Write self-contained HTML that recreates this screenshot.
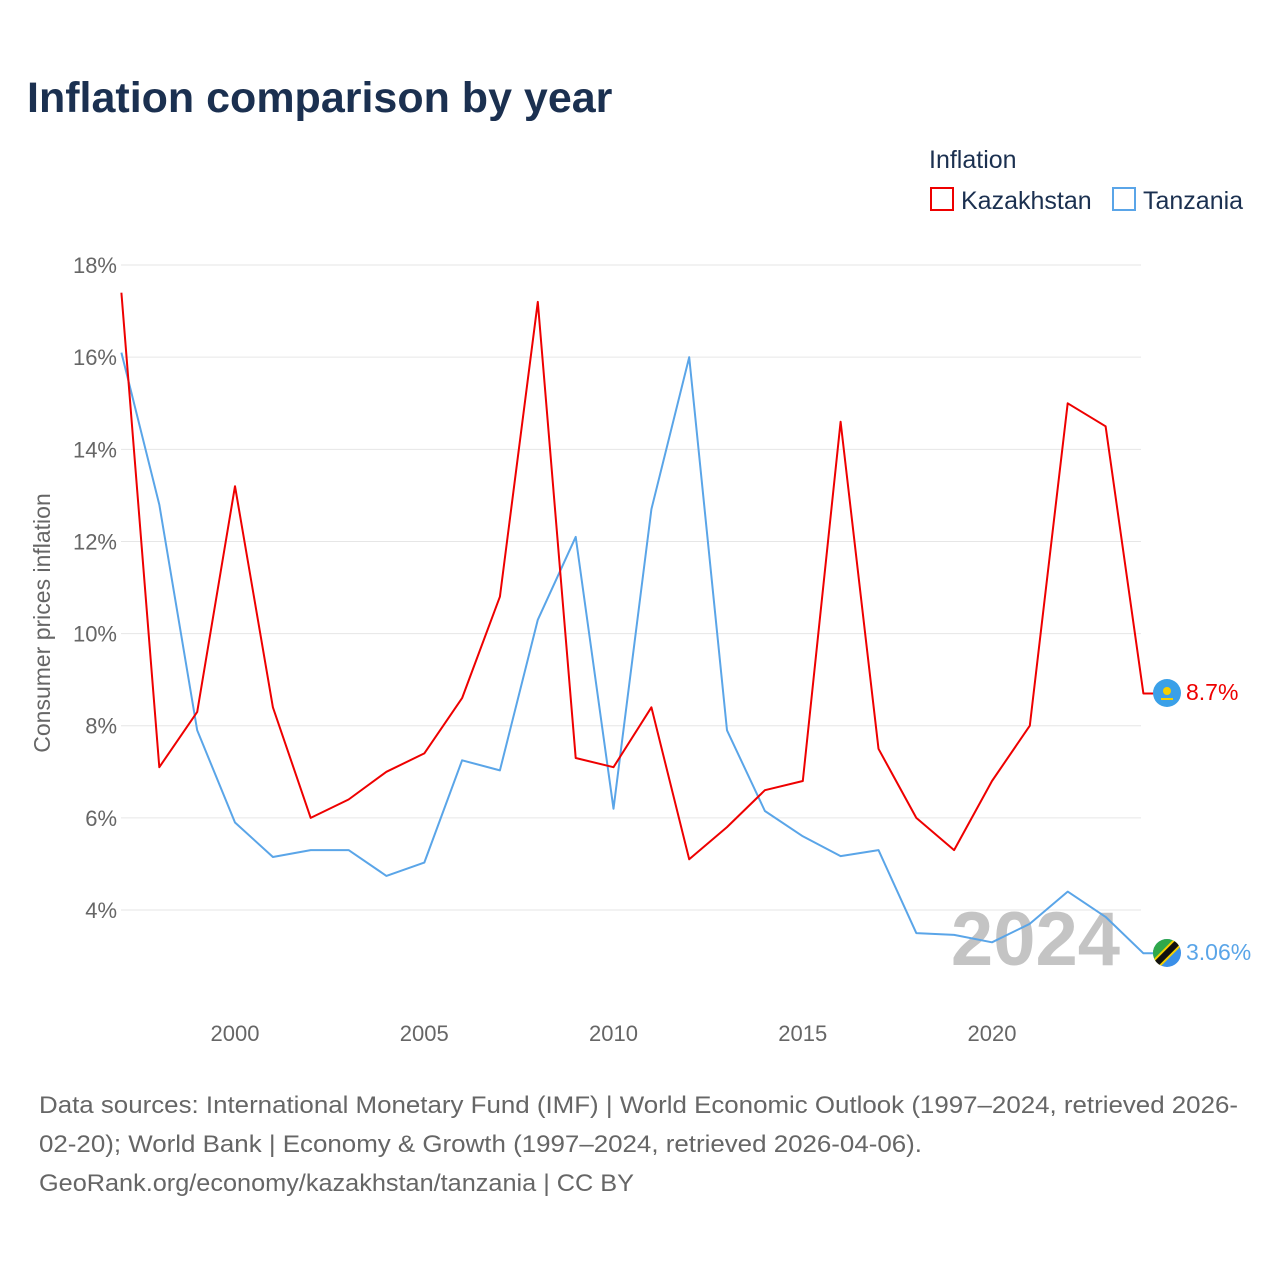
<!DOCTYPE html>
<html><head><meta charset="utf-8"><style>
body{margin:0;background:#fff;font-family:"Liberation Sans",sans-serif}
</style></head><body>
<svg width="1280" height="1280" xmlns="http://www.w3.org/2000/svg" style="font-family:'Liberation Sans',sans-serif">
<text x="27" y="112" font-size="43" font-weight="bold" fill="#1b3050">Inflation comparison by year</text>
<text x="929" y="168" font-size="25" fill="#1b3050">Inflation</text>
<g><rect x="931" y="188" width="22" height="22" fill="none" stroke="#ee0000" stroke-width="2"/><text x="961" y="209" font-size="25" fill="#1b3050">Kazakhstan</text></g>
<g><rect x="1113" y="188" width="22" height="22" fill="none" stroke="#5aa5e8" stroke-width="2"/><text x="1143" y="209" font-size="25" fill="#1b3050">Tanzania</text></g>
<g id="grid"></g><g id="yt"></g><g id="xt"></g>
<text transform="translate(50,623) rotate(-90)" text-anchor="middle" font-size="23" fill="#666">Consumer prices inflation</text>
<text x="1120" y="965" text-anchor="end" font-size="76" font-weight="bold" fill="#c4c4c4">2024</text>
<g id="series"></g>
<g><circle cx="1167" cy="693" r="14" fill="#3aa0e8"/><circle cx="1167" cy="691" r="4" fill="#f5d000"/><rect x="1161" y="698" width="12" height="2" fill="#f5d000"/></g>
<g><clipPath id="tc"><circle cx="1167" cy="953" r="14"/></clipPath><g clip-path="url(#tc)"><rect x="1150" y="936" width="34" height="34" fill="#3a8fe8"/><polygon points="1150,936 1184,936 1150,970" fill="#2fa84a"/><line x1="1184" y1="936" x2="1150" y2="970" stroke="#f5d000" stroke-width="10"/><line x1="1184" y1="936" x2="1150" y2="970" stroke="#111" stroke-width="6"/></g></g>
<text x="1186" y="700" font-size="23" fill="#ee0000">8.7%</text>
<text x="1186" y="960" font-size="23" fill="#5aa5e8">3.06%</text>
<text font-size="24" fill="#666"><tspan x="39" y="1113" textLength="1199" lengthAdjust="spacingAndGlyphs">Data sources: International Monetary Fund (IMF) | World Economic Outlook (1997–2024, retrieved 2026-</tspan><tspan x="39" y="1152" textLength="883" lengthAdjust="spacingAndGlyphs">02-20); World Bank | Economy &amp; Growth (1997–2024, retrieved 2026-04-06).</tspan><tspan x="39" y="1191" textLength="595" lengthAdjust="spacingAndGlyphs">GeoRank.org/economy/kazakhstan/tanzania | CC BY</tspan></text>
</svg>
<script>
const years=[1997,1998,1999,2000,2001,2002,2003,2004,2005,2006,2007,2008,2009,2010,2011,2012,2013,2014,2015,2016,2017,2018,2019,2020,2021,2022,2023,2024];
const kazakhstan=[17.4,7.1,8.3,13.2,8.4,6.0,6.4,7.0,7.4,8.6,10.8,17.2,7.3,7.1,8.4,5.1,5.8,6.6,6.8,14.6,7.5,6.0,5.3,6.8,8.0,15.0,14.5,8.7];
const tanzania=[16.1,12.8,7.9,5.9,5.15,5.3,5.3,4.74,5.03,7.25,7.03,10.3,12.1,6.2,12.7,16.0,7.9,6.15,5.6,5.17,5.3,3.5,3.46,3.3,3.7,4.4,3.85,3.06];
const yTicks=[4,6,8,10,12,14,16,18];
const xTicks=[2000,2005,2010,2015,2020];
const NS="http://www.w3.org/2000/svg";
const X=y=>235+(y-2000)*37.85;
const Y=v=>1094.3-v*46.07;
function mk(t,a,p){const e=document.createElementNS(NS,t);for(const k in a)e.setAttribute(k,a[k]);p.appendChild(e);return e;}
const grid=document.getElementById('grid'),yt=document.getElementById('yt'),xt=document.getElementById('xt'),se=document.getElementById('series');
yTicks.forEach(v=>{
 const l=mk('line',{x1:121,x2:1141,y1:Y(v),y2:Y(v),stroke:'#e6e6e6','stroke-width':1},grid);
 
 
 const t=mk('text',{x:117,y:Y(v)+8,'text-anchor':'end','font-size':22,fill:'#666'},yt);
 t.textContent=v+'%';
 
 
});
xTicks.forEach(v=>{
 const t=mk('text',{x:X(v),y:1041,'text-anchor':'middle','font-size':22,fill:'#666'},xt);
 t.textContent=v;
 
 
});
function line(vals,col,name){
 let d=vals.map((v,i)=>(i?'L':'M')+X(years[i]).toFixed(1)+','+Y(v).toFixed(1)).join(' ');
 d+=' L'+(X(years[years.length-1])+10).toFixed(1)+','+Y(vals[vals.length-1]).toFixed(1);
 const p=mk('path',{d:d,fill:'none',stroke:col,'stroke-width':2,'stroke-linejoin':'round'},se);
 
 
}
line(tanzania,'#5aa5e8','tanzania-line');
line(kazakhstan,'#ee0000','kazakhstan-line');
</script>
</body></html>
